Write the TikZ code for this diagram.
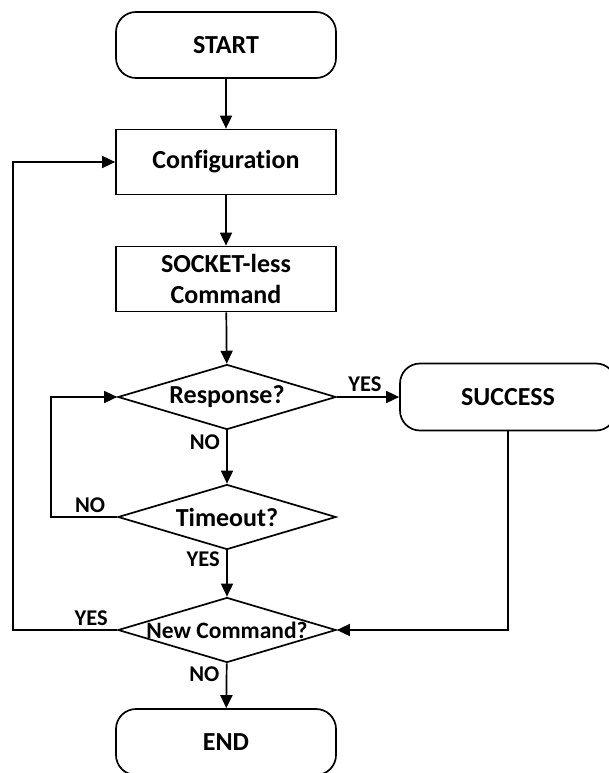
\documentclass[tikz,border=0pt]{standalone}
\usepackage{fontspec}
\setmainfont{Carlito}[Ligatures=NoCommon]
\usetikzlibrary{shapes.geometric,arrows.meta,positioning}

\begin{document}
\begin{tikzpicture}[x=1pt,y=-1pt,
    line width=1.7pt,
    >={Triangle[length=13pt,width=12pt]},
    terminal/.style={draw, rectangle, rounded corners=20pt, minimum width=220pt, minimum height=66pt, font=\fontsize{26}{30}\selectfont\bfseries},
    process/.style={draw, rectangle, minimum width=220pt, minimum height=65pt, align=center, font=\fontsize{26}{30}\selectfont\bfseries},
    decision/.style={draw, diamond, aspect=3.35, inner sep=0pt, minimum width=218pt, minimum height=65pt, font=\fontsize{26}{30}\selectfont\bfseries},
    answer/.style={font=\fontsize{22.5}{26}\selectfont\bfseries}]
    \useasboundingbox (0,0) rectangle (609,773);

    \node[terminal] (start) at (226,45) {START};
    \node[process] (config) at (226,162) {Configuration};
    \node[process, inner sep=2pt] (cmd) at (226,279) {SOCKET-less\\[1pt]Command};

    \node[decision] (resp) at (227,397) {Response?};
    \node[decision] (tmo) at (227,517) {Timeout?};
    \node[decision, font=\fontsize{23.5}{27}\selectfont\bfseries, inner xsep=-8pt] (newc) at (227,630) {New Command?};

    \node[terminal, minimum width=216pt, minimum height=67pt] (succ) at (508,397) {SUCCESS};
    \node[terminal] (finish) at (226,742) {END};

    \coordinate (inner) at (51,517);
    \coordinate (outer) at (13,630);

    % main line
    \draw[->] (start) -- (config);
    \draw[->] (config) -- (cmd);
    \draw[->] (cmd) -- (resp);
    \draw[->] (resp.east) -- node[pos=0.45,above,answer,yshift=1pt]{YES} (succ.west);
    \draw[->] (resp) -- node[pos=0.22,left,answer,xshift=-3pt]{NO} (tmo);
    \draw[->] (tmo) -- node[pos=0.2,left,answer,xshift=-3pt]{YES} (newc);
    \draw[->] (newc) -- node[pos=0.25,left,answer,xshift=-3pt]{NO} (finish);

    % loops
    \draw[->] (tmo.west) -- node[midway,above,answer,xshift=6pt]{NO} (inner) |- (resp.west);
    \draw[->] (newc.west) -- node[pos=0.25,above,answer]{YES} (outer) |- (config.west);
    \draw[->] (succ.south) |- (newc.east);
\end{tikzpicture}
\end{document}
